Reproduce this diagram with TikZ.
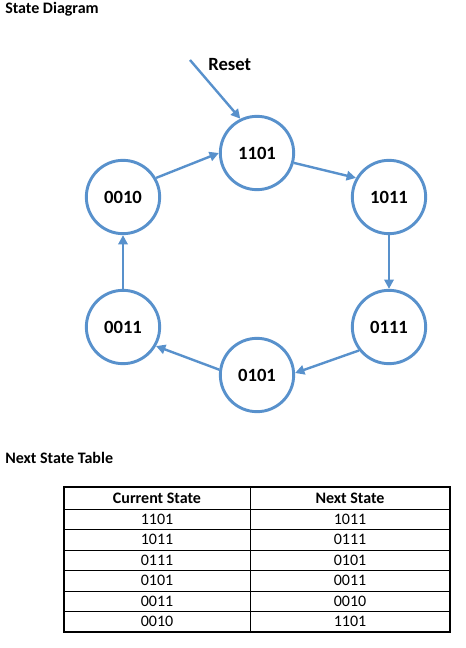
\documentclass[tikz,border=0pt]{standalone}
\usepackage{fontspec}
\setmainfont{Carlito}
\usetikzlibrary{arrows.meta}
\definecolor{stateblue}{RGB}{88,145,204}

\begin{document}
\begin{tikzpicture}[
    x=0.75pt, y=-0.75pt,
    >={Triangle[length=7pt,width=7pt]},
    state/.style={circle, draw=stateblue, line width=2.2pt, minimum size=55pt, inner sep=0pt, font=\fontsize{14}{16}\selectfont\bfseries},
    trans/.style={->, draw=stateblue, line width=1.8pt},
    heading/.style={anchor=base west, inner sep=0pt, font=\fontsize{12}{14}\selectfont\bfseries},
    cell/.style={inner sep=0pt, font=\fontsize{12}{14}\selectfont}
]
\useasboundingbox (0,0) rectangle (465,648);

\node[heading] (diagtitle) at (5,14) {State Diagram};
\node[heading] (tabtitle) at (5,463) {Next State Table};




\node[state] (s1101) at (257,153) {1101};
\node[state] (s1011) at (389,197) {1011};
\node[state] (s0111) at (389,327) {0111};
\node[state] (s0101) at (257,375) {0101};
\node[state] (s0011) at (123,327) {0011};
\node[state] (s0010) at (123,197) {0010};

\coordinate (rst) at (190,60);
\node[heading, font=\fontsize{14}{16}\selectfont\bfseries] (rstlbl) at (208,71) {Reset};
\draw[trans] (rst) -- (s1101.116);

\draw[trans] (s0010.30) -- (s1101.180);
\draw[trans] (s1101.-15) -- (s1011.150);
\draw[trans] (s1011.south) -- (s0111.north);
\draw[trans] (s0111.218) -- (s0101.3);
\draw[trans] (s0101.172) -- (s0011.-30);
\draw[trans] (s0011.north) -- (s0010.south);




\draw[line width=1.5pt] (64,487) rectangle (450,632);
\draw[line width=0.6pt] (250,487) -- (250,632);
\foreach \k in {0,...,5}
    \draw[line width=0.6pt] (64,{509+\k*20.5}) -- (450,{509+\k*20.5});

\node[cell, font=\fontsize{12}{14}\selectfont\bfseries] (curhead) at (157,498) {Current State};
\node[cell, font=\fontsize{12}{14}\selectfont\bfseries] (nxthead) at (350,498) {Next State};

\foreach \cur/\nxt [count=\i] in {1101/1011, 1011/0111, 0111/0101, 0101/0011, 0011/0010, 0010/1101} {
    \node[cell] (cur\i) at (157,{509+(\i-0.5)*20.5}) {\cur};
    \node[cell] (nxt\i) at (350,{509+(\i-0.5)*20.5}) {\nxt};
}

\end{tikzpicture}
\end{document}
